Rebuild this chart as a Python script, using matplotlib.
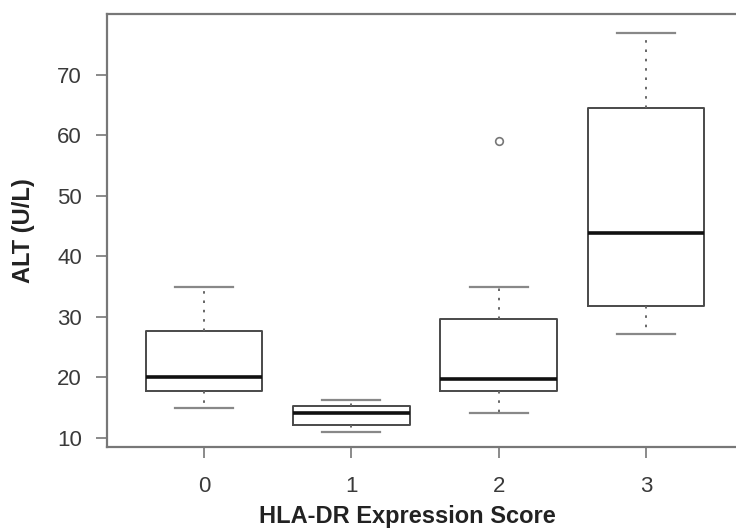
"""
Boxplot of ALT by HLA-DR expression score.
"""
import matplotlib
matplotlib.use("Agg")
import matplotlib.pyplot as plt

# Summary stats
scores = ["0", "1", "2", "3"]
q1 = [17.7, 12.1, 17.7, 31.8]
median = [20.0, 14.1, 19.8, 43.9]
q3 = [27.7, 15.3, 29.7, 64.4]
whisker_lo = [15.0, 11.0, 14.1, 27.1]
whisker_hi = [35.0, 16.3, 35.0, 76.8]
outliers = [[], [], [59.0], []]

y_ticks = [10, 20, 30, 40, 50, 60, 70]

plt.rcParams['font.family'] = ['Liberation Sans', 'DejaVu Sans']

fig = plt.figure(figsize=(7.36, 5.29), dpi=100)
W, H = 736, 529
# right edge of the plot region sits outside the picture (cropped)
ax = fig.add_axes([107 / W, (H - 447) / H, (743 - 107) / W, (447 - 14) / H])

stats = []
for i, s in enumerate(scores):
    stats.append(dict(label=s, q1=q1[i], med=median[i], q3=q3[i],
                      whislo=whisker_lo[i], whishi=whisker_hi[i],
                      fliers=outliers[i]))

positions = list(range(len(scores)))
ax.bxp(stats, positions=positions, widths=0.79, showfliers=True,
       boxprops=dict(color='#4a4a4a', linewidth=1.4),
       medianprops=dict(color='#111111', linewidth=2.6),
       whiskerprops=dict(color='#666666', linewidth=1.4,
                         linestyle=(0, (1.3, 3.5))),
       capprops=dict(color='#888888', linewidth=1.6),
       flierprops=dict(marker='o', markersize=5.5, markerfacecolor='none',
                       markeredgecolor='#777777', markeredgewidth=1.2))

ax.set_xlim(-0.66, 3.66)
ax.set_ylim(8.5, 80)
ax.set_yticks(y_ticks)
ax.set_xticks(positions)
ax.set_xticklabels(scores)

for sp in ax.spines.values():
    sp.set_color('#777777')
    sp.set_linewidth(1.6)

ax.tick_params(axis='both', length=8, width=1.2, color='#777777',
               labelsize=16, labelcolor='#3a3a3a')
ax.tick_params(axis='y', pad=10)
ax.tick_params(axis='x', pad=13)

ax.set_xlabel('HLA-DR Expression Score', fontsize=17, fontweight='bold',
              color='#222222')
ax.set_ylabel('ALT (U/L)', fontsize=17, fontweight='bold', color='#222222')
ax.xaxis.set_label_coords(0.472, -0.133)
ax.yaxis.set_label_coords(-0.113, 0.5)

fig.savefig('out.png', dpi=100)
